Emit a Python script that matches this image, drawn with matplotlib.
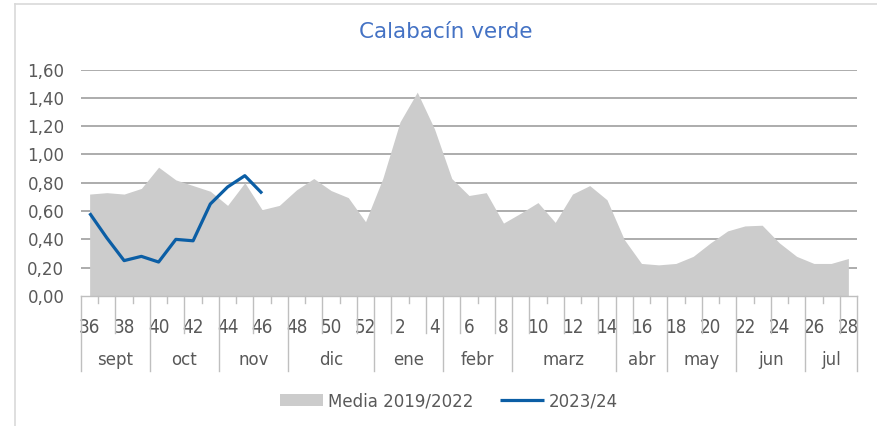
import matplotlib
matplotlib.use("Agg")
import matplotlib.pyplot as plt
from matplotlib.lines import Line2D
import numpy as np

weeks = [36, 37, 38, 39, 40, 41, 42, 43, 44, 45, 46, 47, 48, 49, 50, 51, 52,
         1, 2, 3, 4, 5, 6, 7, 8, 9, 10, 11, 12, 13, 14, 15, 16, 17, 18, 19, 20,
         21, 22, 23, 24, 25, 26, 27, 28]
media = [0.72, 0.73, 0.72, 0.76, 0.91, 0.82, 0.78, 0.74, 0.64, 0.80, 0.61, 0.64,
         0.75, 0.83, 0.745, 0.695, 0.525, 0.83, 1.23, 1.44, 1.18, 0.83, 0.71, 0.73,
         0.515, 0.585, 0.66, 0.52, 0.72, 0.78, 0.68, 0.40, 0.23, 0.22, 0.23, 0.28,
         0.375, 0.46, 0.495, 0.50, 0.375, 0.28, 0.23, 0.23, 0.265]
actual = [0.585, 0.41, 0.25, 0.28, 0.24, 0.40, 0.39, 0.65, 0.77, 0.85, 0.725]
months = ['sept', 'oct', 'nov', 'dic', 'ene', 'febr', 'marz', 'abr', 'may', 'jun', 'jul']
month_weeks = [4, 4, 4, 5, 4, 4, 6, 3, 4, 4, 3]
title = "Calabacín verde"
legend_labels = ["Media 2019/2022", "2023/24"]

FONT = "DejaVu Sans"
plt.rcParams['font.family'] = [FONT]
TXT = '#595959'
GRID = '#a6a6a6'
TICK = '#bfbfbf'

fig = plt.figure(figsize=(8.77, 4.26), dpi=100)
ax = fig.add_axes([81/877, 1-296/426, (857-81)/877, (296-69.5)/426])

x = np.arange(len(weeks))
ax.fill_between(x, 0, media, color='#cccccc', linewidth=0, zorder=2,
                label=legend_labels[0])
ax.plot(np.arange(len(actual)), actual, color='#0b5ea5', lw=2.3, zorder=3,
        solid_capstyle='butt', label=legend_labels[1])

ax.set_xlim(-0.5, len(weeks) - 0.5)
ax.set_ylim(0, 1.6)
yt = np.arange(0, 1.61, 0.2)
ax.set_yticks(yt)
ax.set_yticklabels([f"{v:.2f}".replace('.', ',') for v in yt], color=TXT, fontsize=12)
ax.tick_params(axis='y', length=0, pad=12)
for v in yt[1:]:
    ax.axhline(v, color=GRID, lw=1.3, zorder=1)

for s in ['left', 'right', 'top']:
    ax.spines[s].set_visible(False)
ax.spines['bottom'].set_color(TICK)
ax.spines['bottom'].set_linewidth(1.0)
ax.spines['bottom'].set_zorder(4)

# week labels
ax.set_xticks(x[::2])
ax.set_xticklabels([str(w) for w in weeks[::2]], color=TXT, fontsize=13.5,
                   fontstretch='condensed')
ax.tick_params(axis='x', length=0, pad=16)

tr = ax.get_xaxis_transform()
nb = len(weeks) + 1
bounds = np.arange(nb) - 0.5
month_edges = np.concatenate([[0], np.cumsum(month_weeks)])
for i, b in enumerate(bounds):
    if i in month_edges:
        y0 = -0.333
    elif i % 2 == 0:
        y0 = -0.165
    else:
        y0 = -0.032
    ax.add_line(Line2D([b, b], [0, y0], transform=tr, color=TICK, lw=1.0,
                       clip_on=False))

for m, a, b in zip(months, month_edges[:-1], month_edges[1:]):
    ax.text((a + b - 1) / 2, -0.283, m, transform=tr, ha='center', va='center',
            color=TXT, fontsize=12)

fig.text(446/877, 1-32/426, title, ha='center', va='center', color='#4472c4',
         fontsize=15.5)

leg = fig.legend(loc='center', bbox_to_anchor=(449/877, 1-401/426), ncol=2,
                 frameon=False, fontsize=12, handlelength=2.6, handleheight=0.75,
                 handletextpad=0.3, columnspacing=1.6, labelcolor=TXT)

fig.add_artist(Line2D([15/877, 15/877], [0, 1-4/426], color='#d9d9d9', lw=1.2,
                      transform=fig.transFigure))
fig.add_artist(Line2D([15/877, 1], [1-4/426, 1-4/426], color='#d9d9d9', lw=1.2,
                      transform=fig.transFigure))

fig.savefig('out.png', dpi=100, facecolor='white')
